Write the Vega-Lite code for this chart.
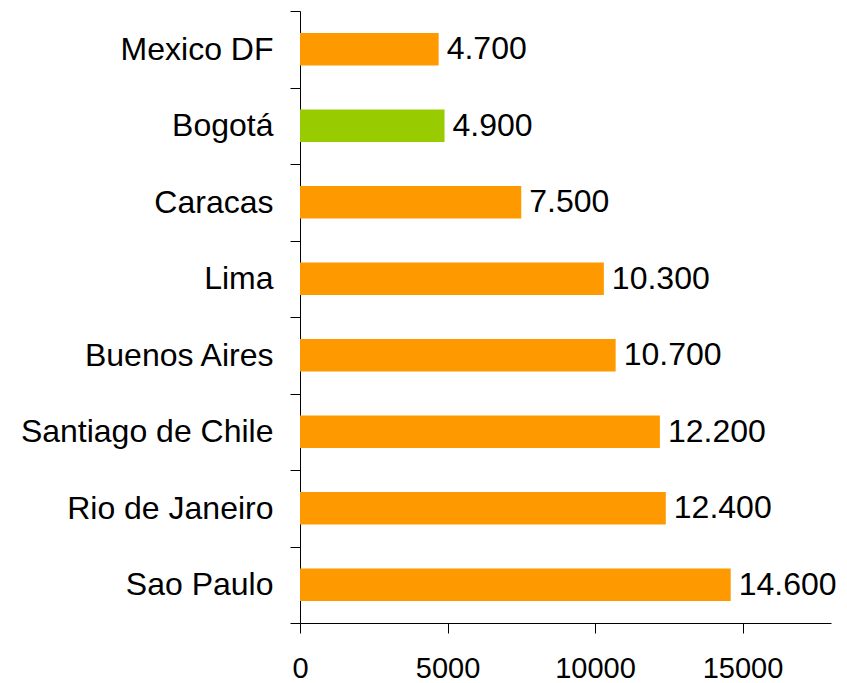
{
  "$schema": "https://vega.github.io/schema/vega-lite/v6.json",
  "autosize": "none",
  "width": 531,
  "height": 612,
  "padding": {"left": 300, "top": 11, "right": 16, "bottom": 60},
  "background": "white",
  "config": {
    "view": {"stroke": null},
    "font": "Liberation Sans",
    "locale": {"number": {"decimal": ",", "thousands": ".", "grouping": [3], "currency": ["", ""]}}
  },
  "data": {
    "values": [
      {"city": "Mexico DF", "value": 4700, "group": "other"},
      {"city": "Bogotá", "value": 4900, "group": "highlight"},
      {"city": "Caracas", "value": 7500, "group": "other"},
      {"city": "Lima", "value": 10300, "group": "other"},
      {"city": "Buenos Aires", "value": 10700, "group": "other"},
      {"city": "Santiago de Chile", "value": 12200, "group": "other"},
      {"city": "Rio de Janeiro", "value": 12400, "group": "other"},
      {"city": "Sao Paulo", "value": 14600, "group": "other"}
    ]
  },
  "encoding": {
    "y": {
      "field": "city", "type": "nominal", "sort": null,
      "scale": {"paddingInner": 0, "paddingOuter": 0},
      "axis": {
        "title": null, "tickBand": "extent", "tickSize": 10, "tickColor": "black",
        "domainColor": "black", "labelFontSize": 32, "labelColor": "black",
        "labelPadding": 17, "labelFont": "Liberation Sans", "grid": false, "labelLimit": 0
      }
    },
    "x": {
      "field": "value", "type": "quantitative",
      "scale": {"domain": [0, 18000], "nice": false},
      "axis": {
        "title": null, "values": [0, 5000, 10000, 15000], "format": "d",
        "tickSize": 10, "tickColor": "black", "domainColor": "black",
        "labelFontSize": 29, "labelColor": "black", "labelPadding": 21,
        "labelFont": "Liberation Sans", "grid": false, "labelFlush": false
      }
    }
  },
  "layer": [
    {
      "mark": {"type": "bar", "height": {"band": 0.423}},
      "encoding": {
        "color": {
          "field": "group", "type": "nominal",
          "scale": {"domain": ["other", "highlight"], "range": ["#FF9900", "#99CC00"]},
          "legend": null
        }
      }
    },
    {
      "mark": {"type": "text", "align": "left", "baseline": "middle", "dx": 8, "fontSize": 32, "color": "black", "font": "Liberation Sans"},
      "encoding": {
        "text": {"field": "value", "type": "quantitative", "format": ",d"}
      }
    }
  ]
}
